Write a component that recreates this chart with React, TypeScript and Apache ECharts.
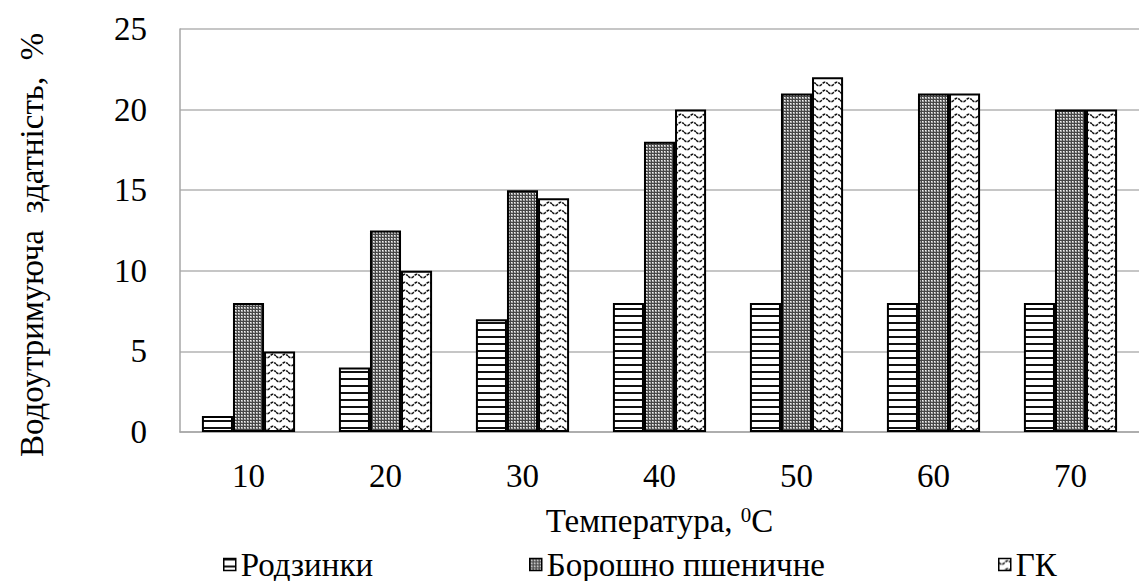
import React, { useEffect, useRef } from "react";
import * as echarts from "echarts";

const categories = ["10", "20", "30", "40", "50", "60", "70"];
const seriesNames = ["Родзинки", "Борошно пшеничне", "ГК"];
const raisins = [1, 4, 7, 8, 8, 8, 8];
const flour = [8, 12.5, 15, 18, 21, 21, 20];
const gk = [5, 10, 14.5, 20, 22, 21, 20];
const yTicks = { min: 0, max: 25, interval: 5 };

const FONT = "Liberation Serif, Times New Roman, serif";

function makeStripes() {
  const c = document.createElement("canvas");
  c.width = 8;
  c.height = 7;
  const g = c.getContext("2d")!;
  g.fillStyle = "#ffffff";
  g.fillRect(0, 0, 8, 7);
  g.fillStyle = "#111111";
  g.fillRect(0, 0, 8, 2);
  return c;
}

function makeDots() {
  const c = document.createElement("canvas");
  c.width = 3;
  c.height = 3;
  const g = c.getContext("2d")!;
  g.fillStyle = "#a8a8a8";
  g.fillRect(0, 0, 3, 3);
  g.fillStyle = "#474747";
  g.fillRect(0, 0, 3, 1);
  g.fillRect(0, 0, 1, 3);
  g.fillStyle = "#f2f2f2";
  g.fillRect(1, 1, 1, 1);
  return c;
}

function makeWaves() {
  const c = document.createElement("canvas");
  c.width = 12;
  c.height = 8;
  const g = c.getContext("2d")!;
  g.fillStyle = "#ffffff";
  g.fillRect(0, 0, 12, 8);
  g.strokeStyle = "#111111";
  g.lineWidth = 1.5;
  g.setLineDash([3, 1]);
  g.beginPath();
  for (let x = 0; x <= 12; x += 0.5) {
    const y = 4 + 1.8 * Math.sin((2 * Math.PI * x) / 12);
    if (x === 0) g.moveTo(x, y);
    else g.lineTo(x, y);
  }
  g.stroke();
  return c;
}

export default function App() {
  const ref = useRef<HTMLDivElement>(null);

  useEffect(() => {
    document.body.style.margin = "0";
    if (!ref.current) return;
    const chart = echarts.init(ref.current, null, { renderer: "svg" });
    const stripes = makeStripes();
    const dots = makeDots();
    const waves = makeWaves();
    const pat = (c: HTMLCanvasElement) => ({
      image: c,
      repeat: "repeat",
      imageWidth: c.width,
      imageHeight: c.height,
    });
    const fills = [pat(stripes), pat(dots), pat(waves)];
    const datas = [raisins, flour, gk];
    const legendLefts = [218, 524, 993];

    const option: any = {
      animation: false,
      backgroundColor: "#ffffff",
      textStyle: { fontFamily: FONT },
      grid: { left: 180, right: -6, top: 29, bottom: 149, containLabel: false },
      xAxis: {
        type: "category",
        data: categories,
        axisLine: { lineStyle: { color: "#a6a6a6", width: 1.5 } },
        axisTick: { show: false },
        axisLabel: {
          fontFamily: FONT,
          fontSize: 33,
          color: "#000",
          margin: 27,
        },
        name: "Температура, {sup|0}C",
        nameLocation: "middle",
        nameGap: 72,
        nameTextStyle: {
          fontFamily: FONT,
          fontSize: 33,
          color: "#000",
          rich: {
            sup: {
              fontFamily: FONT,
              fontSize: 21,
              color: "#000",
              verticalAlign: "top",
              padding: [0, 0, 10, 0],
            },
          },
        },
      },
      yAxis: {
        type: "value",
        min: yTicks.min,
        max: yTicks.max,
        interval: yTicks.interval,
        axisLine: { show: true, lineStyle: { color: "#a6a6a6", width: 1.5 } },
        axisTick: { show: false },
        splitLine: { lineStyle: { color: "#b3b3b3", width: 1.5 } },
        axisLabel: {
          fontFamily: FONT,
          fontSize: 33,
          color: "#000",
          margin: 33,
        },
      },
      legend: seriesNames.map((n, i) => ({
        data: [n],
        left: legendLefts[i],
        top: 543,
        icon: "rect",
        itemWidth: 12,
        itemHeight: 12,
        itemStyle: { borderColor: "#000", borderWidth: 1.5 },
        textStyle: { fontFamily: FONT, fontSize: 33, color: "#000" },
        selectedMode: false,
      })),
      graphic: [
        {
          type: "text",
          x: 32,
          y: 245,
          rotation: Math.PI / 2,
          style: {
            text: "Водоутримуюча  здатність,  %",
            fontFamily: FONT,
            fontSize: 33,
            fill: "#000",
            align: "center",
            verticalAlign: "middle",
          },
        },
      ],
      series: seriesNames.map((n, i) => ({
        name: n,
        type: "bar",
        data: datas[i],
        barGap: "0%",
        barCategoryGap: "32%",
        itemStyle: {
          color: fills[i],
          borderColor: "#000",
          borderWidth: 2,
        },
      })),
    };
    chart.setOption(option);
    return () => chart.dispose();
  }, []);

  return <div ref={ref} style={{ width: 1139, height: 581 }} />;
}
